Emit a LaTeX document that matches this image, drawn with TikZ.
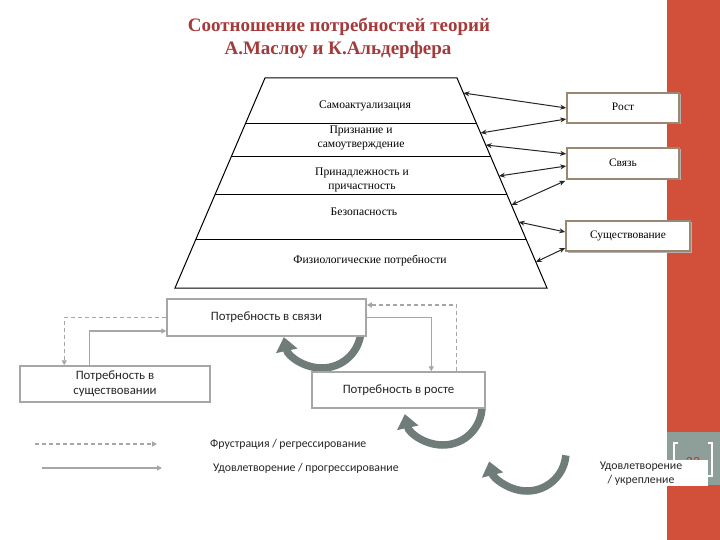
\documentclass[tikz,border=0pt]{standalone}
\usepackage{fontspec}
\setmainfont{Liberation Serif}
\newfontfamily\calib{Carlito}
\usetikzlibrary{arrows.meta,calc,shadows}
\definecolor{titlered}{HTML}{A53A3A}
\definecolor{bandred}{HTML}{D2503A}
\definecolor{bandgray}{HTML}{8E9F9A}
\definecolor{boxbrown}{HTML}{9C8872}
\definecolor{lgray}{HTML}{A6A6A6}
\definecolor{arcgray}{HTML}{6F7C79}
\definecolor{txtgray}{HTML}{262626}
\begin{document}
\begin{tikzpicture}[x=1pt,y=-1pt,
  titlestyle/.style={font=\bfseries\fontsize{19}{21}\selectfont, text=titlered, inner sep=0pt},
  pyr/.style={draw=black, line width=1pt},
  ptext/.style={font=\fontsize{11.6}{14}\selectfont, align=center, inner sep=0pt},
  rbox/.style={draw=boxbrown, line width=1.6pt, fill=white, font=\fontsize{11.4}{12}\selectfont, inner sep=0pt,
     drop shadow={shadow xshift=1.5pt, shadow yshift=-1.5pt, fill=black!30, opacity=1}},
  dbl/.style={draw=black!85, line width=1pt, {Stealth[length=6pt,width=5pt]}-{Stealth[length=6pt,width=5pt]}},
  bbox/.style={draw=lgray, line width=1.5pt, fill=white, font=\calib\fontsize{12.8}{15}\selectfont, text=txtgray, align=center, inner sep=0pt,
     drop shadow={shadow xshift=1pt, shadow yshift=-1pt, fill=black!15, opacity=1}},
  conn/.style={draw=lgray, line width=1.5pt, -{Triangle[length=5pt,width=5pt]}},
  dconn/.style={conn, dash pattern=on 4pt off 3pt},
  bigarrow/.style={draw=arcgray, line width=7.5pt, -{Triangle[length=14pt,width=21pt]}},
  ltext/.style={font=\calib\fontsize{11.8}{13}\selectfont, text=txtgray, inner sep=0pt, anchor=west}
]
\useasboundingbox (0,0) rectangle (720,540);
\fill[white] (0,0) rectangle (720,540);
\fill[bandred] (667,0) rectangle (720,540);
\fill[bandgray] (667,432) rectangle (720,485);

% title
\node[titlestyle] (t1) at (339,27) {Соотношение потребностей теорий};
\node[titlestyle] (t2) at (338,50) {А.Маслоу и К.Альдерфера};

% pyramid
\coordinate (A) at (265,78);
\coordinate (B) at (457,78);
\coordinate (C) at (547,288);
\coordinate (D) at (175,288);
\draw[pyr] (A) -- (B) -- (C) -- (D) -- cycle;
\draw[pyr] (245.3,124) -- (476.7,124);
\draw[pyr] (231.1,157) -- (490.9,157);
\draw[pyr] (214.9,195) -- (507.1,195);
\draw[pyr] (196,239) -- (526,239);

\node[ptext] (l1) at (365,106) {Самоактуализация};
\node[ptext] (l2) at (361,138) {Признание и\\самоутверждение};
\node[ptext] (l3) at (362,180) {Принадлежность и\\причастность};
\node[ptext] (l4) at (364,212) {Безопасность};
\node[ptext] (l5) at (370,261) {Физиологические потребности};

% right boxes
\node[rbox, minimum width=112pt, minimum height=30pt] (rost) at (623,108) {\raisebox{3pt}{Рост}};
\node[rbox, minimum width=112pt, minimum height=31pt] (svz) at (623,163.5) {\raisebox{1.5pt}{Связь}};
\node[rbox, minimum width=124pt, minimum height=30pt] (sush) at (628,236) {\raisebox{2pt}{Существование}};

\coordinate (p1) at (463.4,93);
\coordinate (p2) at (480.6,133);
\coordinate (p3) at (485.7,145);
\coordinate (p4) at (499,176);
\coordinate (p5) at (511.4,205);
\coordinate (p6) at (518.7,222);
\coordinate (p7) at (535.9,262);
\draw[dbl] (p1) -- (rost.west);
\draw[dbl] (p2) -- ($(rost.west)+(0,11)$);
\draw[dbl] (p3) -- ($(svz.west)+(0,-9.5)$);
\draw[dbl] (p4) -- ($(svz.west)+(0,2.5)$);
\draw[dbl] (p5) -- ($(svz.south west)+(-1,1)$);
\draw[dbl] (p6) -- ($(sush.west)+(0,-4)$);
\draw[dbl] (p7) -- ($(sush.west)+(0,12)$);

% curved arrows (drawn before boxes)
\draw[bigarrow] ($(322,329)+(-5:39)$) arc (-5:168:39);
\draw[bigarrow] ($(443,406)+(-5:39)$) arc (-5:168:39);
\draw[bigarrow] ($(527,452)+(5:39)$) arc (5:166:39);

% bottom boxes
\node[bbox, minimum width=199pt, minimum height=37pt] (nsv) at (266.5,317.5) {Потребность в связи};
\node[bbox, minimum width=190pt, minimum height=36pt] (nsu) at (115,384) {Потребность в\\существовании};
\node[bbox, minimum width=173pt, minimum height=36pt] (nro) at (398.5,390) {Потребность в росте};

\draw[dconn] (nsv.west) -| ($(nsu.north west)+(45,0)$);
\draw[conn] ($(nsu.north west)+(70,0)$) |- ($(nsv.west)+(0,13.5)$);
\draw[conn] (nsv.east) -| ($(nro.north west)+(120,0)$);
\draw[dconn] ($(nro.north west)+(145,0)$) |- ($(nsv.east)+(0,-12.5)$);

% legend
\coordinate (la) at (35,444);
\coordinate (lb) at (157,444);
\coordinate (lc) at (42,468);
\coordinate (ld) at (162,468);
\draw[dconn] (la) -- (lb);
\draw[conn] (lc) -- (ld);
\node[ltext] (lt1) at (210,444) {Фрустрация / регрессирование};
\node[ltext] (lt2) at (213,468) {Удовлетворение / прогрессирование};

% page number decoration
\draw[white, line width=1.2pt] (678,443) -- (674,443) -- (674,476) -- (678,476);
\draw[white, line width=1.2pt] (708,443) -- (712,443) -- (712,476) -- (708,476);
\node[font=\calib\fontsize{14}{16}\selectfont, text=bandred!80!black, inner sep=0pt] (pg) at (693,462) {22};
\fill[white] (597,460) rectangle (708,486);
\node[font=\calib\fontsize{11.8}{14}\selectfont, text=txtgray, align=center, inner sep=0pt] (lt3) at (641,474) {Удовлетворение\\/ укрепление};
\end{tikzpicture}
\end{document}
